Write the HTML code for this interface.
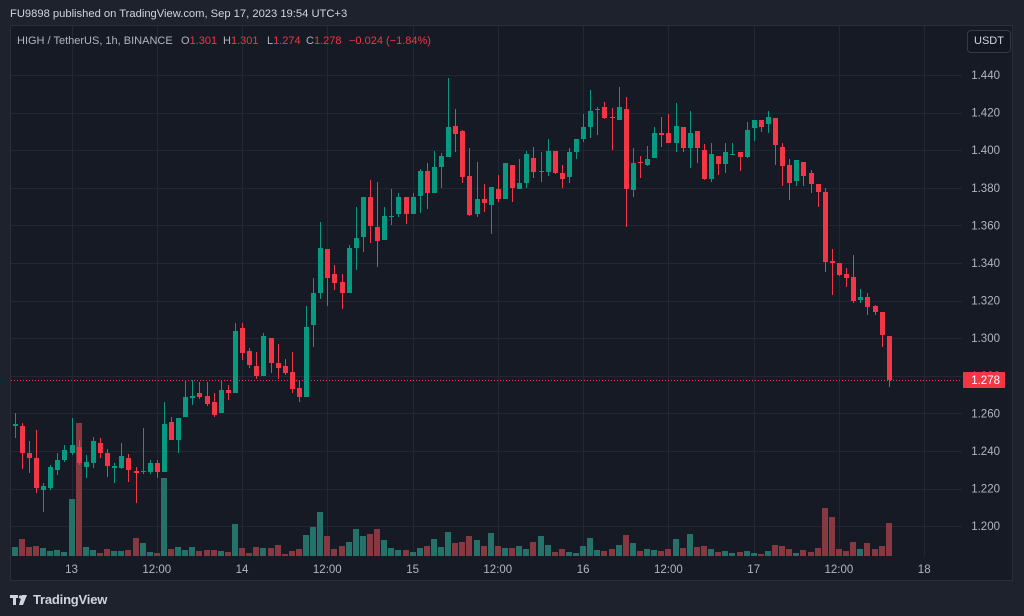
<!DOCTYPE html>
<html>
<head>
<meta charset="utf-8">
<style>
  html,body{margin:0;padding:0;}
  body{width:1024px;height:616px;background:#1e222d;overflow:hidden;position:relative;font-family:"Liberation Sans",sans-serif;}
  #hdr{position:absolute;left:10px;top:8px;font-size:11.2px;color:#d1d4dc;white-space:nowrap;}
  #panel{position:absolute;left:10px;top:25px;width:1003px;height:556px;background:#161a25;border:1px solid #2a2e39;box-sizing:border-box;}
  svg{position:absolute;left:0;top:0;}
  .lg{position:absolute;top:35px;font-size:11px;color:#b2b5be;white-space:nowrap;}
  .rv{color:#f23645;}
  #usdt{position:absolute;left:967px;top:30px;width:44px;height:23px;box-sizing:border-box;border:1px solid #363a45;border-radius:4px;background:#131722;color:#d1d4dc;font-size:11px;line-height:21px;text-align:center;}
  #tv{position:absolute;left:33px;top:592px;font-size:13px;color:#d1d4dc;font-weight:bold;letter-spacing:-0.2px;}
</style>
</head>
<body>
<div id="hdr">FU9898 published on TradingView.com, Sep 17, 2023 19:54 UTC+3</div>
<div id="panel"></div>

<svg id="chart" width="1024" height="616" viewBox="0 0 1024 616" xmlns="http://www.w3.org/2000/svg">
  <defs>
    <clipPath id="cp"><rect x="11" y="26" width="951" height="530"/></clipPath>
  </defs>
  <g id="grid" stroke="#232733" stroke-width="1"></g>
  <g id="vol" clip-path="url(#cp)"></g>
  <line x1="11" y1="380.5" x2="962" y2="380.5" stroke="#f23645" stroke-width="1" stroke-dasharray="1,2"/>
  <g id="cdl" clip-path="url(#cp)"></g>
  <g id="plab" font-family="Liberation Sans, sans-serif" font-size="11.5" fill="#b2b5be" text-anchor="end"></g>
  <g id="tlab" font-family="Liberation Sans, sans-serif" font-size="11.5" fill="#b2b5be" text-anchor="middle"></g>
  <rect x="963" y="372" width="42" height="16" rx="1" fill="#f23645"/>
  <text x="1000" y="384" font-family="Liberation Sans, sans-serif" font-size="11.5" fill="#ffffff" text-anchor="end">1.278</text>
  <!-- TradingView logo -->
  <g fill="#d1d4dc">
    <rect x="10" y="595" width="8" height="3"/>
    <rect x="13" y="595" width="3" height="10"/>
    <circle cx="20.5" cy="597" r="1.6"/>
    <polygon points="22,595 27,595 23,605 19,605"/>
  </g>
</svg>

<div class="lg" style="left:17px;">HIGH / TetherUS, 1h, BINANCE</div>
<div class="lg" style="left:181px;">O<span class="rv">1.301</span></div>
<div class="lg" style="left:223px;">H<span class="rv">1.301</span></div>
<div class="lg" style="left:267px;">L<span class="rv">1.274</span></div>
<div class="lg" style="left:306px;">C<span class="rv">1.278</span></div>
<div class="lg rv" style="left:349px;">−0.024 (−1.84%)</div>
<div id="usdt">USDT</div>
<div id="tv">TradingView</div>

<script>
(function(){
  var NS="http://www.w3.org/2000/svg";
  function el(tag, attrs, parent, txt){
    var e=document.createElementNS(NS,tag);
    for(var k in attrs) e.setAttribute(k, attrs[k]);
    if(txt!==undefined) e.textContent=txt;
    parent.appendChild(e); return e;
  }
  var grid=document.getElementById('grid');
  var plab=document.getElementById('plab');
  var tlab=document.getElementById('tlab');
  // horizontal grid + price labels
  var prices=["1.440","1.420","1.400","1.380","1.360","1.340","1.320","1.300","1.280","1.260","1.240","1.220","1.200"];
  for(var k=0;k<prices.length;k++){
    var y=75+k*37.6;
    var yy=Math.round(y)+0.5;
    el('line',{x1:11,y1:yy,x2:962,y2:yy},grid);
    el('text',{x:1000,y:(y+4).toFixed(1)},plab,prices[k]);
  }
  // vertical grid + time labels
  var tl=["13","12:00","14","12:00","15","12:00","16","12:00","17","12:00","18"];
  for(var j=0;j<tl.length;j++){
    var x=71.5+85.27*j;
    var xx=Math.round(x)+0.5;
    el('line',{x1:xx,y1:26,x2:xx,y2:556},grid);
    el('text',{x:x.toFixed(1),y:573},tlab,tl[j]);
  }
  var D=[
['g',424,426,413,438,547],['r',426,453,423,469,539],['r',453,458,441,473,547],['r',458,488,430,493,546],
['g',486,490,483,512,548],['g',467,488,465,490,551],['g',460,470,453,475,550],['g',450,460,445,462,552],
['g',445,453,418,455,499],['r',447,463,440,465,423],['g',462,467,455,478,547],['g',441,463,437,468,550],
['r',443,453,438,458,553],['r',453,466,449,477,549],['g',466,468,463,483,551],['g',456,468,443,469,551],
['r',458,470,454,482,550],['r',471,473,467,503,538],['g',471,472,428,474,543],['g',463,472,460,474,552],
['r',463,472,460,478,553],['g',424,472,402,472,478],['r',422,440,417,440,549],['g',418,440,418,453,547],
['g',397,417,380,417,550],['g',396,398,380,405,547],['r',393,397,382,399,551],['r',396,404,382,406,550],
['r',402,415,393,417,550],['g',390,413,380,413,551],['r',390,393,385,400,552],['g',331,393,323,393,524],
['r',328,353,323,360,548],['r',351,365,348,368,553],['r',366,376,352,379,547],['g',336,376,333,376,548],
['r',338,363,338,373,548],['r',363,368,344,379,545],['r',366,373,359,375,554],['r',372,389,352,393,551],
['r',388,397,380,402,549],['g',327,397,306,397,535],['g',293,325,278,347,527],['g',248,293,222,299,512],
['r',249,278,249,306,536],['r',274,283,265,290,549],['r',282,293,274,309,546],['g',248,293,245,293,542],
['g',238,248,207,270,529],['g',197,237,197,252,536],['r',197,226,180,243,534],['r',227,241,182,267,529],
['g',216,240,207,240,540],['g',216,217,189,225,548],['g',197,214,193,217,550],['r',197,214,197,224,550],
['g',197,214,193,214,552],['g',171,196,169,213,548],['r',171,193,163,209,546],['g',167,193,151,193,539],
['g',156,167,153,188,547],['g',127,157,78,157,532],['r',126,134,109,152,543],['r',131,177,130,183,542],
['r',176,215,148,216,536],['g',199,214,162,217,540],['r',199,203,184,212,546],['g',187,205,187,234,533],
['r',189,199,175,202,546],['g',163,199,163,199,548],['r',165,188,165,202,548],['g',183,189,159,189,546],
['g',154,183,151,188,549],['r',158,172,147,178,542],['g',171,172,152,182,536],['g',151,172,139,176,545],
['r',151,173,151,174,552],['r',173,179,165,188,549],['g',152,177,148,183,552],['g',139,152,139,159,553],
['g',127,139,114,142,546],['g',111,127,90,138,538],['g',109,110,107,135,550],['r',107,118,102,119,551],
['r',117,118,108,150,549],['g',107,120,87,120,545],['r',109,189,97,227,535],['g',163,190,148,197,543],
['r',162,163,156,178,551],['g',159,165,146,166,549],['g',133,158,127,158,550],['r',133,135,117,147,551],
['r',133,143,114,143,549],['g',126,143,103,152,539],['r',127,148,127,152,548],['g',133,148,111,168,534],
['r',131,148,131,163,547],['r',150,179,144,180,546],['g',154,179,143,182,549],['r',156,164,156,175,552],
['g',152,164,143,173,551],['g',154,155,143,155,553],['r',152,157,152,171,552],['g',130,157,122,158,551],
['g',120,128,120,141,553],['r',120,127,120,132,554],['g',117,124,111,133,551],['r',118,145,118,165,545],
['r',147,166,143,186,546],['r',165,183,159,200,549],['g',160,181,160,186,553],['r',162,176,162,186,550],
['r',173,184,170,193,552],['r',184,192,184,207,548],['r',192,262,188,272,508],['r',261,263,249,295,517],
['r',263,275,263,276,549],['r',274,278,268,287,551],['r',277,301,255,303,542],['g',297,300,289,303,549],
['r',297,307,293,315,543],['r',306,312,305,315,549],['r',312,335,312,347,546],['r',336,380,336,387,523]
  ];
  var vol=document.getElementById('vol');
  var cdl=document.getElementById('cdl');
  var GC="#089981", RC="#f23645", GV="#24726a", RV="#873841";
  // partial candle at left edge
  el('rect',{x:10,y:403,width:1,height:25,fill:RC},cdl);
  for(var i=0;i<D.length;i++){
    var d=D[i];
    var x=14.7+7.106*i;
    var xr=Math.round(x);
    var c=d[0]=='g'?GC:RC;
    var vc=d[0]=='g'?GV:RV;
    el('rect',{x:xr-3,y:d[5],width:6,height:556-d[5],fill:vc},vol);
    el('rect',{x:xr,y:d[3],width:1,height:Math.max(1,d[4]-d[3]),fill:c},cdl);
    el('rect',{x:xr-2,y:d[1],width:5,height:Math.max(1,d[2]-d[1]),fill:c},cdl);
  }
})();
</script>
</body>
</html>
